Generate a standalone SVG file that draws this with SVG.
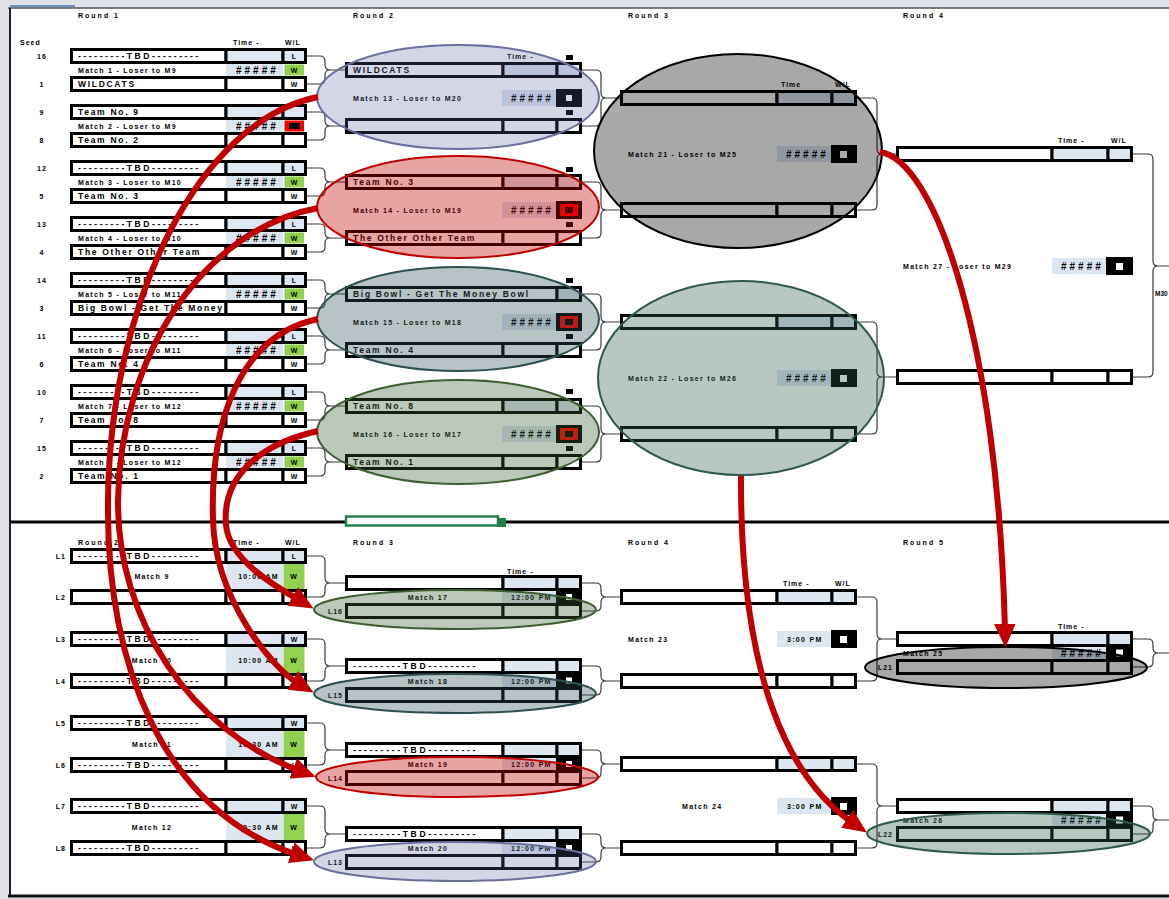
<svg xmlns="http://www.w3.org/2000/svg" width="1169" height="899" viewBox="0 0 1169 899">
<defs>
<style>
.t{font-family:"Liberation Sans",Arial,sans-serif;font-weight:bold;fill:#000}
.h{font-size:7px;letter-spacing:2px}
.m{font-size:7px;letter-spacing:1.3px}
.n{font-size:8.5px;letter-spacing:1.7px}
.s{font-size:7px;letter-spacing:1px}
.x{font-size:10px;letter-spacing:3px}
.c{stroke:#000;stroke-width:3}
.wf{fill:#fff}
.bf{fill:#dce6f1}
.g{fill:#92d050}
.k{fill:#000}
.wi{fill:#fff}
.rd{fill:#ff0000}
.br{fill:none;stroke:#3a3a3a;stroke-width:1.2}
.arr{fill:none;stroke:#c00000;stroke-width:6;marker-end:url(#ah)}
.ov{stroke-width:2}
</style>
<marker id="ah" viewBox="0 0 10 9" refX="3" refY="4.5" markerWidth="4" markerHeight="3.6" orient="auto" markerUnits="strokeWidth"><path d="M0,0 L10,4.5 L0,9 z" fill="#c00000"/></marker>
</defs>

<g id="frame">
<rect x="0" y="0" width="1169" height="899" fill="#dfe3e8"/>
<rect x="10" y="8" width="1159" height="888" fill="#fff"/>
<rect x="10" y="5" width="65" height="2" fill="#6e8fc4"/>
<line x1="8" y1="8" x2="1169" y2="8" stroke="#555" stroke-width="1.5"/>
<line x1="10" y1="8" x2="10" y2="897" stroke="#222" stroke-width="2"/>
<line x1="8" y1="896" x2="1169" y2="896" stroke="#111" stroke-width="3"/>
<line x1="10" y1="522" x2="1169" y2="522" stroke="#000" stroke-width="3"/>
<rect x="346" y="516.5" width="152" height="9" fill="#fff" stroke="#21804a" stroke-width="2.5"/>
<rect x="497" y="518" width="9" height="9" fill="#21804a"/>
</g>

<g id="headers">
<text class="t h" x="78" y="18">Round 1</text>
<text class="t h" x="353" y="18">Round 2</text>
<text class="t h" x="628" y="18">Round 3</text>
<text class="t h" x="903" y="18">Round 4</text>
<text class="t s" x="20" y="45">Seed</text>
<text class="t s" x="233" y="45">Time -</text>
<text class="t s" x="285" y="45">W/L</text>
<text class="t s" x="507" y="59">Time -</text>
<text class="t s" x="781" y="87">Time</text>
<text class="t s" x="835" y="87">W/L</text>
<text class="t s" x="1058" y="143">Time -</text>
<text class="t s" x="1111" y="143">W/L</text>
<text class="t h" x="78" y="545">Round 2</text>
<text class="t h" x="353" y="545">Round 3</text>
<text class="t h" x="628" y="545">Round 4</text>
<text class="t h" x="903" y="545">Round 5</text>
<text class="t s" x="233" y="545">Time -</text>
<text class="t s" x="285" y="545">W/L</text>
<text class="t s" x="507" y="574">Time -</text>
<text class="t s" x="783" y="586">Time -</text>
<text class="t s" x="835" y="586">W/L</text>
<text class="t s" x="1058" y="629">Time -</text>
<text class="t" x="1155" y="296" font-size="6.5">M30</text>
</g>

<g id="connectors">
<path class="br" d="M306,56H320Q325,56 325,61V65Q325,70 330,70H345M306,84H320Q325,84 325,79V75Q325,70 330,70"/>
<path class="br" d="M306,112H320Q325,112 325,117V121Q325,126 330,126H345M306,140H320Q325,140 325,135V131Q325,126 330,126"/>
<path class="br" d="M306,168H320Q325,168 325,173V177Q325,182 330,182H345M306,196H320Q325,196 325,191V187Q325,182 330,182"/>
<path class="br" d="M306,224H320Q325,224 325,229V233Q325,238 330,238H345M306,252H320Q325,252 325,247V243Q325,238 330,238"/>
<path class="br" d="M306,280H320Q325,280 325,285V289Q325,294 330,294H345M306,308H320Q325,308 325,303V299Q325,294 330,294"/>
<path class="br" d="M306,336H320Q325,336 325,341V345Q325,350 330,350H345M306,364H320Q325,364 325,359V355Q325,350 330,350"/>
<path class="br" d="M306,392H320Q325,392 325,397V401Q325,406 330,406H345M306,420H320Q325,420 325,415V411Q325,406 330,406"/>
<path class="br" d="M306,448H320Q325,448 325,453V457Q325,462 330,462H345M306,476H320Q325,476 325,471V467Q325,462 330,462"/>
<path class="br" d="M582,70H596Q601,70 601,75V93Q601,98 606,98H620M582,126H596Q601,126 601,121V103Q601,98 606,98"/>
<path class="br" d="M582,182H596Q601,182 601,187V205Q601,210 606,210H620M582,238H596Q601,238 601,233V215Q601,210 606,210"/>
<path class="br" d="M582,294H596Q601,294 601,299V317Q601,322 606,322H620M582,350H596Q601,350 601,345V327Q601,322 606,322"/>
<path class="br" d="M582,406H596Q601,406 601,411V429Q601,434 606,434H620M582,462H596Q601,462 601,457V439Q601,434 606,434"/>
<path class="br" d="M857,98H872Q877,98 877,103V149Q877,154 882,154H896M857,210H872Q877,210 877,205V159Q877,154 882,154"/>
<path class="br" d="M857,322H872Q877,322 877,327V372Q877,377 882,377H896M857,434H872Q877,434 877,429V382Q877,377 882,377"/>
<path class="br" d="M1133,154H1148Q1153,154 1153,159V261Q1153,266 1158,266H1169M1133,377H1148Q1153,377 1153,372V271Q1153,266 1158,266"/>
<path class="br" d="M306,556H320Q325,556 325,561V578Q325,583 330,583H345M306,597H320Q325,597 325,592V588Q325,583 330,583"/>
<path class="br" d="M306,639H320Q325,639 325,644V661Q325,666 330,666H345M306,681H320Q325,681 325,676V671Q325,666 330,666"/>
<path class="br" d="M306,723H320Q325,723 325,728V745Q325,750 330,750H345M306,765H320Q325,765 325,760V755Q325,750 330,750"/>
<path class="br" d="M306,806H320Q325,806 325,811V829Q325,834 330,834H345M306,848H320Q325,848 325,843V839Q325,834 330,834"/>
<path class="br" d="M582,583H596Q601,583 601,588V592Q601,597 606,597H620M582,611H596Q601,611 601,606V602Q601,597 606,597"/>
<path class="br" d="M582,666H596Q601,666 601,671V676Q601,681 606,681H620M582,695H596Q601,695 601,690V686Q601,681 606,681"/>
<path class="br" d="M582,750H596Q601,750 601,755V759Q601,764 606,764H620M582,778H596Q601,778 601,773V769Q601,764 606,764"/>
<path class="br" d="M582,834H596Q601,834 601,839V843Q601,848 606,848H620M582,862H596Q601,862 601,857V853Q601,848 606,848"/>
<path class="br" d="M857,597H872Q877,597 877,602V634Q877,639 882,639H896M857,681H872Q877,681 877,676V644Q877,639 882,639"/>
<path class="br" d="M857,764H872Q877,764 877,769V801Q877,806 882,806H896M857,848H872Q877,848 877,843V811Q877,806 882,806"/>
<path class="br" d="M1133,639H1148Q1153,639 1153,644V648Q1153,653 1158,653H1169M1133,667H1148Q1153,667 1153,662V658Q1153,653 1158,653"/>
<path class="br" d="M1133,806H1148Q1153,806 1153,811V815Q1153,820 1158,820H1169M1133,834H1148Q1153,834 1153,829V825Q1153,820 1158,820"/>
</g>

<!-- Round 1 -->
<g id="m1">
<text class="t s" x="42" y="58.5" text-anchor="middle">16</text>
<rect class="c wf" x="71.5" y="49.5" width="154.5" height="13"/>
<text class="t n" x="78" y="59" textLength="122" lengthAdjust="spacing">---------TBD---------</text>
<rect class="c bf" x="226" y="49.5" width="57" height="13"/><rect class="c bf" x="283" y="49.5" width="22.5" height="13"/>
<text class="t s" x="294.5" y="58.5" text-anchor="middle">L</text>
<text class="t m" x="78" y="72.5">Match 1 - Loser to M9</text>
<rect class="bf" x="226" y="64" width="57" height="12"/><text class="t x" x="236" y="73.5">#####</text>
<rect class="g" x="284.5" y="64.5" width="19.5" height="11"/><text class="t s" x="294.5" y="72.5" text-anchor="middle">W</text>
<text class="t s" x="42" y="86.5" text-anchor="middle">1</text>
<rect class="c wf" x="71.5" y="77.5" width="154.5" height="13"/>
<text class="t n" x="78" y="87">WILDCATS</text>
<rect class="c wf" x="226" y="77.5" width="57" height="13"/><rect class="c wf" x="283" y="77.5" width="22.5" height="13"/>
<text class="t s" x="294.5" y="86.5" text-anchor="middle">W</text>
</g>
<g id="m2">
<text class="t s" x="42" y="114.5" text-anchor="middle">9</text>
<rect class="c wf" x="71.5" y="105.5" width="154.5" height="13"/>
<text class="t n" x="78" y="115">Team No. 9</text>
<rect class="c bf" x="226" y="105.5" width="57" height="13"/><rect class="c bf" x="283" y="105.5" width="22.5" height="13"/>
<text class="t m" x="78" y="128.5">Match 2 - Loser to M9</text>
<rect class="bf" x="226" y="120" width="57" height="12"/><text class="t x" x="236" y="129.5">#####</text>
<rect class="rd" x="284.5" y="120.5" width="19.5" height="11"/><rect class="k" x="289" y="123" width="11" height="6"/>
<text class="t s" x="42" y="142.5" text-anchor="middle">8</text>
<rect class="c wf" x="71.5" y="133.5" width="154.5" height="13"/>
<text class="t n" x="78" y="143">Team No. 2</text>
<rect class="c wf" x="226" y="133.5" width="57" height="13"/><rect class="c wf" x="283" y="133.5" width="22.5" height="13"/>
</g>
<g id="m3">
<text class="t s" x="42" y="170.5" text-anchor="middle">12</text>
<rect class="c wf" x="71.5" y="161.5" width="154.5" height="13"/>
<text class="t n" x="78" y="171" textLength="122" lengthAdjust="spacing">---------TBD---------</text>
<rect class="c bf" x="226" y="161.5" width="57" height="13"/><rect class="c bf" x="283" y="161.5" width="22.5" height="13"/>
<text class="t s" x="294.5" y="170.5" text-anchor="middle">L</text>
<text class="t m" x="78" y="184.5">Match 3 - Loser to M10</text>
<rect class="bf" x="226" y="176" width="57" height="12"/><text class="t x" x="236" y="185.5">#####</text>
<rect class="g" x="284.5" y="176.5" width="19.5" height="11"/><text class="t s" x="294.5" y="184.5" text-anchor="middle">W</text>
<text class="t s" x="42" y="198.5" text-anchor="middle">5</text>
<rect class="c wf" x="71.5" y="189.5" width="154.5" height="13"/>
<text class="t n" x="78" y="199">Team No. 3</text>
<rect class="c wf" x="226" y="189.5" width="57" height="13"/><rect class="c wf" x="283" y="189.5" width="22.5" height="13"/>
<text class="t s" x="294.5" y="198.5" text-anchor="middle">W</text>
</g>
<g id="m4">
<text class="t s" x="42" y="226.5" text-anchor="middle">13</text>
<rect class="c wf" x="71.5" y="217.5" width="154.5" height="13"/>
<text class="t n" x="78" y="227" textLength="122" lengthAdjust="spacing">---------TBD---------</text>
<rect class="c bf" x="226" y="217.5" width="57" height="13"/><rect class="c bf" x="283" y="217.5" width="22.5" height="13"/>
<text class="t s" x="294.5" y="226.5" text-anchor="middle">L</text>
<text class="t m" x="78" y="240.5">Match 4 - Loser to M10</text>
<rect class="bf" x="226" y="232" width="57" height="12"/><text class="t x" x="236" y="241.5">#####</text>
<rect class="g" x="284.5" y="232.5" width="19.5" height="11"/><text class="t s" x="294.5" y="240.5" text-anchor="middle">W</text>
<text class="t s" x="42" y="254.5" text-anchor="middle">4</text>
<rect class="c wf" x="71.5" y="245.5" width="154.5" height="13"/>
<text class="t n" x="78" y="255">The Other Other Team</text>
<rect class="c wf" x="226" y="245.5" width="57" height="13"/><rect class="c wf" x="283" y="245.5" width="22.5" height="13"/>
<text class="t s" x="294.5" y="254.5" text-anchor="middle">W</text>
</g>
<g id="m5">
<text class="t s" x="42" y="282.5" text-anchor="middle">14</text>
<rect class="c wf" x="71.5" y="273.5" width="154.5" height="13"/>
<text class="t n" x="78" y="283" textLength="122" lengthAdjust="spacing">---------TBD---------</text>
<rect class="c bf" x="226" y="273.5" width="57" height="13"/><rect class="c bf" x="283" y="273.5" width="22.5" height="13"/>
<text class="t s" x="294.5" y="282.5" text-anchor="middle">L</text>
<text class="t m" x="78" y="296.5">Match 5 - Loser to M11</text>
<rect class="bf" x="226" y="288" width="57" height="12"/><text class="t x" x="236" y="297.5">#####</text>
<rect class="g" x="284.5" y="288.5" width="19.5" height="11"/><text class="t s" x="294.5" y="296.5" text-anchor="middle">W</text>
<text class="t s" x="42" y="310.5" text-anchor="middle">3</text>
<rect class="c wf" x="71.5" y="301.5" width="154.5" height="13"/>
<text class="t n" x="78" y="311">Big Bowl - Get The Money Bowl</text>
<rect class="c wf" x="226" y="301.5" width="57" height="13"/><rect class="c wf" x="283" y="301.5" width="22.5" height="13"/>
<text class="t s" x="294.5" y="310.5" text-anchor="middle">W</text>
</g>
<g id="m6">
<text class="t s" x="42" y="338.5" text-anchor="middle">11</text>
<rect class="c wf" x="71.5" y="329.5" width="154.5" height="13"/>
<text class="t n" x="78" y="339" textLength="122" lengthAdjust="spacing">---------TBD---------</text>
<rect class="c bf" x="226" y="329.5" width="57" height="13"/><rect class="c bf" x="283" y="329.5" width="22.5" height="13"/>
<text class="t s" x="294.5" y="338.5" text-anchor="middle">L</text>
<text class="t m" x="78" y="352.5">Match 6 - Loser to M11</text>
<rect class="bf" x="226" y="344" width="57" height="12"/><text class="t x" x="236" y="353.5">#####</text>
<rect class="g" x="284.5" y="344.5" width="19.5" height="11"/><text class="t s" x="294.5" y="352.5" text-anchor="middle">W</text>
<text class="t s" x="42" y="366.5" text-anchor="middle">6</text>
<rect class="c wf" x="71.5" y="357.5" width="154.5" height="13"/>
<text class="t n" x="78" y="367">Team No. 4</text>
<rect class="c wf" x="226" y="357.5" width="57" height="13"/><rect class="c wf" x="283" y="357.5" width="22.5" height="13"/>
<text class="t s" x="294.5" y="366.5" text-anchor="middle">W</text>
</g>
<g id="m7">
<text class="t s" x="42" y="394.5" text-anchor="middle">10</text>
<rect class="c wf" x="71.5" y="385.5" width="154.5" height="13"/>
<text class="t n" x="78" y="395" textLength="122" lengthAdjust="spacing">---------TBD---------</text>
<rect class="c bf" x="226" y="385.5" width="57" height="13"/><rect class="c bf" x="283" y="385.5" width="22.5" height="13"/>
<text class="t s" x="294.5" y="394.5" text-anchor="middle">L</text>
<text class="t m" x="78" y="408.5">Match 7 - Loser to M12</text>
<rect class="bf" x="226" y="400" width="57" height="12"/><text class="t x" x="236" y="409.5">#####</text>
<rect class="g" x="284.5" y="400.5" width="19.5" height="11"/><text class="t s" x="294.5" y="408.5" text-anchor="middle">W</text>
<text class="t s" x="42" y="422.5" text-anchor="middle">7</text>
<rect class="c wf" x="71.5" y="413.5" width="154.5" height="13"/>
<text class="t n" x="78" y="423">Team No. 8</text>
<rect class="c wf" x="226" y="413.5" width="57" height="13"/><rect class="c wf" x="283" y="413.5" width="22.5" height="13"/>
<text class="t s" x="294.5" y="422.5" text-anchor="middle">W</text>
</g>
<g id="m8">
<text class="t s" x="42" y="450.5" text-anchor="middle">15</text>
<rect class="c wf" x="71.5" y="441.5" width="154.5" height="13"/>
<text class="t n" x="78" y="451" textLength="122" lengthAdjust="spacing">---------TBD---------</text>
<rect class="c bf" x="226" y="441.5" width="57" height="13"/><rect class="c bf" x="283" y="441.5" width="22.5" height="13"/>
<text class="t s" x="294.5" y="450.5" text-anchor="middle">L</text>
<text class="t m" x="78" y="464.5">Match 8 - Loser to M12</text>
<rect class="bf" x="226" y="456" width="57" height="12"/><text class="t x" x="236" y="465.5">#####</text>
<rect class="g" x="284.5" y="456.5" width="19.5" height="11"/><text class="t s" x="294.5" y="464.5" text-anchor="middle">W</text>
<text class="t s" x="42" y="478.5" text-anchor="middle">2</text>
<rect class="c wf" x="71.5" y="469.5" width="154.5" height="13"/>
<text class="t n" x="78" y="479">Team No. 1</text>
<rect class="c wf" x="226" y="469.5" width="57" height="13"/><rect class="c wf" x="283" y="469.5" width="22.5" height="13"/>
<text class="t s" x="294.5" y="478.5" text-anchor="middle">W</text>
</g>

<!-- Round 2 top -->
<g id="m13">
<rect class="k" x="566" y="55" width="7" height="5"/>
<rect class="c wf" x="346.5" y="63.5" width="156.5" height="13"/>
<text class="t n" x="353" y="73">WILDCATS</text>
<rect class="c bf" x="503" y="63.5" width="54" height="13"/><rect class="c bf" x="557" y="63.5" width="23.5" height="13"/>
<text class="t m" x="353" y="101">Match 13 - Loser to M20</text>
<rect class="bf" x="502" y="90" width="55" height="16"/><text class="t x" x="511" y="101.5">#####</text>
<rect class="k" x="556" y="89" width="26" height="18"/><rect class="wi" x="566" y="95" width="6" height="6"/>
<rect class="k" x="566" y="110" width="7" height="5"/>
<rect class="c wf" x="346.5" y="119.5" width="156.5" height="13"/>
<rect class="c wf" x="503" y="119.5" width="54" height="13"/><rect class="c wf" x="557" y="119.5" width="23.5" height="13"/>
</g>
<g id="m14">
<rect class="k" x="566" y="167" width="7" height="5"/>
<rect class="c wf" x="346.5" y="175.5" width="156.5" height="13"/>
<text class="t n" x="353" y="185">Team No. 3</text>
<rect class="c bf" x="503" y="175.5" width="54" height="13"/><rect class="c bf" x="557" y="175.5" width="23.5" height="13"/>
<text class="t m" x="353" y="213">Match 14 - Loser to M19</text>
<rect class="bf" x="502" y="202" width="55" height="16"/><text class="t x" x="511" y="213.5">#####</text>
<rect class="k" x="556" y="201" width="26" height="18"/><rect class="rd" x="560" y="204" width="18" height="12"/><rect class="k" x="565" y="207" width="8" height="6"/>
<rect class="k" x="566" y="222" width="7" height="5"/>
<rect class="c wf" x="346.5" y="231.5" width="156.5" height="13"/>
<text class="t n" x="353" y="241">The Other Other Team</text>
<rect class="c wf" x="503" y="231.5" width="54" height="13"/><rect class="c wf" x="557" y="231.5" width="23.5" height="13"/>
</g>
<g id="m15">
<rect class="k" x="566" y="278" width="7" height="5"/>
<rect class="c wf" x="346.5" y="287.5" width="210.5" height="13"/>
<text class="t n" x="353" y="297">Big Bowl - Get The Money Bowl</text>
<rect class="c bf" x="557" y="287.5" width="23.5" height="13"/>
<text class="t m" x="353" y="325">Match 15 - Loser to M18</text>
<rect class="bf" x="502" y="314" width="55" height="16"/><text class="t x" x="511" y="325.5">#####</text>
<rect class="k" x="556" y="313" width="26" height="18"/><rect class="rd" x="560" y="316" width="18" height="12"/><rect class="k" x="565" y="319" width="8" height="6"/>
<rect class="k" x="566" y="334" width="7" height="5"/>
<rect class="c wf" x="346.5" y="343.5" width="156.5" height="13"/>
<text class="t n" x="353" y="353">Team No. 4</text>
<rect class="c wf" x="503" y="343.5" width="54" height="13"/><rect class="c wf" x="557" y="343.5" width="23.5" height="13"/>
</g>
<g id="m16">
<rect class="k" x="566" y="389" width="7" height="5"/>
<rect class="c wf" x="346.5" y="399.5" width="156.5" height="13"/>
<text class="t n" x="353" y="409">Team No. 8</text>
<rect class="c bf" x="503" y="399.5" width="54" height="13"/><rect class="c bf" x="557" y="399.5" width="23.5" height="13"/>
<text class="t m" x="353" y="437">Match 16 - Loser to M17</text>
<rect class="bf" x="502" y="426" width="55" height="16"/><text class="t x" x="511" y="437.5">#####</text>
<rect class="k" x="556" y="425" width="26" height="18"/><rect class="rd" x="560" y="428" width="18" height="12"/><rect class="k" x="565" y="431" width="8" height="6"/>
<rect class="k" x="566" y="446" width="7" height="5"/>
<rect class="c wf" x="346.5" y="455.5" width="156.5" height="13"/>
<text class="t n" x="353" y="465">Team No. 1</text>
<rect class="c wf" x="503" y="455.5" width="54" height="13"/><rect class="c wf" x="557" y="455.5" width="23.5" height="13"/>
</g>

<!-- Round 3 top -->
<g id="m21">
<rect class="c wf" x="621.5" y="91.5" width="155.5" height="13"/>
<rect class="c bf" x="777" y="91.5" width="55" height="13"/><rect class="c bf" x="832" y="91.5" width="23.5" height="13"/>
<text class="t m" x="628" y="157">Match 21 - Loser to M25</text>
<rect class="bf" x="777" y="146" width="54" height="16"/><text class="t x" x="786" y="157.5">#####</text>
<rect class="k" x="831" y="145" width="26" height="18"/><rect class="wi" x="840" y="151" width="7" height="7"/>
<rect class="c wf" x="621.5" y="203.5" width="155.5" height="13"/>
<rect class="c wf" x="777" y="203.5" width="55" height="13"/><rect class="c wf" x="832" y="203.5" width="23.5" height="13"/>
</g>
<g id="m22">
<rect class="c wf" x="621.5" y="315.5" width="155.5" height="13"/>
<rect class="c bf" x="777" y="315.5" width="55" height="13"/><rect class="c bf" x="832" y="315.5" width="23.5" height="13"/>
<text class="t m" x="628" y="381">Match 22 - Loser to M26</text>
<rect class="bf" x="777" y="370" width="54" height="16"/><text class="t x" x="786" y="381.5">#####</text>
<rect class="k" x="831" y="369" width="26" height="18"/><rect class="wi" x="840" y="375" width="7" height="7"/>
<rect class="c wf" x="621.5" y="427.5" width="155.5" height="13"/>
<rect class="c wf" x="777" y="427.5" width="55" height="13"/><rect class="c wf" x="832" y="427.5" width="23.5" height="13"/>
</g>

<!-- Round 4 top -->
<g id="m27">
<rect class="c wf" x="897.5" y="147.5" width="154.5" height="13"/>
<rect class="c bf" x="1052" y="147.5" width="56" height="13"/><rect class="c bf" x="1108" y="147.5" width="23.5" height="13"/>
<text class="t m" x="903" y="269">Match 27 - Loser to M29</text>
<rect class="bf" x="1052" y="258" width="54" height="16"/><text class="t x" x="1061" y="269.5">#####</text>
<rect class="k" x="1106" y="257" width="27" height="18"/><rect class="wi" x="1116" y="263" width="7" height="7"/>
<rect class="c wf" x="897.5" y="370.5" width="154.5" height="13"/>
<rect class="c wf" x="1052" y="370.5" width="56" height="13"/><rect class="c wf" x="1108" y="370.5" width="23.5" height="13"/>
</g>

<!-- Losers Round 2 -->
<g id="m9">
<text class="t s" x="66" y="558.5" text-anchor="end">L1</text>
<rect class="c wf" x="71.5" y="549.5" width="154.5" height="13"/>
<text class="t n" x="78" y="559" textLength="122" lengthAdjust="spacing">---------TBD---------</text>
<rect class="c bf" x="226" y="549.5" width="57" height="13"/><rect class="c bf" x="283" y="549.5" width="22.5" height="13"/>
<text class="t s" x="294.5" y="558.5" text-anchor="middle">L</text>
<rect class="bf" x="226" y="564" width="57" height="25"/><rect class="g" x="283.5" y="564" width="21" height="25"/>
<text class="t m" x="152" y="579" text-anchor="middle">Match 9</text>
<text class="t m" x="279" y="579" text-anchor="end">10:00 AM</text>
<text class="t s" x="294" y="579" text-anchor="middle">W</text>
<text class="t s" x="66" y="599.5" text-anchor="end">L2</text>
<rect class="c wf" x="71.5" y="590.5" width="154.5" height="13"/>
<rect class="c wf" x="226" y="590.5" width="57" height="13"/><rect class="c wf" x="283" y="590.5" width="22.5" height="13"/>
<text class="t s" x="294.5" y="599.5" text-anchor="middle">W</text>
</g>
<g id="m10">
<text class="t s" x="66" y="641.5" text-anchor="end">L3</text>
<rect class="c wf" x="71.5" y="632.5" width="154.5" height="13"/>
<text class="t n" x="78" y="642" textLength="122" lengthAdjust="spacing">---------TBD---------</text>
<rect class="c bf" x="226" y="632.5" width="57" height="13"/><rect class="c bf" x="283" y="632.5" width="22.5" height="13"/>
<text class="t s" x="294.5" y="641.5" text-anchor="middle">W</text>
<rect class="bf" x="226" y="647" width="57" height="26"/><rect class="g" x="283.5" y="647" width="21" height="26"/>
<text class="t m" x="152" y="662.5" text-anchor="middle">Match 10</text>
<text class="t m" x="279" y="662.5" text-anchor="end">10:00 AM</text>
<text class="t s" x="294" y="662.5" text-anchor="middle">W</text>
<text class="t s" x="66" y="683.5" text-anchor="end">L4</text>
<rect class="c wf" x="71.5" y="674.5" width="154.5" height="13"/>
<text class="t n" x="78" y="684" textLength="122" lengthAdjust="spacing">---------TBD---------</text>
<rect class="c wf" x="226" y="674.5" width="57" height="13"/><rect class="c wf" x="283" y="674.5" width="22.5" height="13"/>
<text class="t s" x="294.5" y="683.5" text-anchor="middle">L</text>
</g>
<g id="m11">
<text class="t s" x="66" y="725.5" text-anchor="end">L5</text>
<rect class="c wf" x="71.5" y="716.5" width="154.5" height="13"/>
<text class="t n" x="78" y="726" textLength="122" lengthAdjust="spacing">---------TBD---------</text>
<rect class="c bf" x="226" y="716.5" width="57" height="13"/><rect class="c bf" x="283" y="716.5" width="22.5" height="13"/>
<text class="t s" x="294.5" y="725.5" text-anchor="middle">W</text>
<rect class="bf" x="226" y="731" width="57" height="26"/><rect class="g" x="283.5" y="731" width="21" height="26"/>
<text class="t m" x="152" y="746.5" text-anchor="middle">Match 11</text>
<text class="t m" x="279" y="746.5" text-anchor="end">10:30 AM</text>
<text class="t s" x="294" y="746.5" text-anchor="middle">W</text>
<text class="t s" x="66" y="767.5" text-anchor="end">L6</text>
<rect class="c wf" x="71.5" y="758.5" width="154.5" height="13"/>
<text class="t n" x="78" y="768" textLength="122" lengthAdjust="spacing">---------TBD---------</text>
<rect class="c wf" x="226" y="758.5" width="57" height="13"/><rect class="c wf" x="283" y="758.5" width="22.5" height="13"/>
<text class="t s" x="294.5" y="767.5" text-anchor="middle">L</text>
</g>
<g id="m12">
<text class="t s" x="66" y="808.5" text-anchor="end">L7</text>
<rect class="c wf" x="71.5" y="799.5" width="154.5" height="13"/>
<text class="t n" x="78" y="809" textLength="122" lengthAdjust="spacing">---------TBD---------</text>
<rect class="c bf" x="226" y="799.5" width="57" height="13"/><rect class="c bf" x="283" y="799.5" width="22.5" height="13"/>
<text class="t s" x="294.5" y="808.5" text-anchor="middle">W</text>
<rect class="bf" x="226" y="814" width="57" height="26"/><rect class="g" x="283.5" y="814" width="21" height="26"/>
<text class="t m" x="152" y="829.5" text-anchor="middle">Match 12</text>
<text class="t m" x="279" y="829.5" text-anchor="end">10:30 AM</text>
<text class="t s" x="294" y="829.5" text-anchor="middle">W</text>
<text class="t s" x="66" y="850.5" text-anchor="end">L8</text>
<rect class="c wf" x="71.5" y="841.5" width="154.5" height="13"/>
<text class="t n" x="78" y="851" textLength="122" lengthAdjust="spacing">---------TBD---------</text>
<rect class="c wf" x="226" y="841.5" width="57" height="13"/><rect class="c wf" x="283" y="841.5" width="22.5" height="13"/>
<text class="t s" x="294.5" y="850.5" text-anchor="middle">L</text>
</g>

<!-- Losers Round 3 -->
<g id="m17">
<rect class="c wf" x="346.5" y="576.5" width="156.5" height="13"/>
<rect class="c bf" x="503" y="576.5" width="54" height="13"/><rect class="c bf" x="557" y="576.5" width="23.5" height="13"/>
<rect class="bf" x="502" y="591" width="55" height="12"/>
<text class="t m" x="428" y="600" text-anchor="middle">Match 17</text>
<text class="t m" x="511" y="600">12:00 PM</text>
<rect class="k" x="556" y="590" width="26" height="14"/><rect class="wi" x="566" y="594" width="6" height="6"/>
<text class="t s" x="343" y="613.5" text-anchor="end">L16</text>
<rect class="c wf" x="346.5" y="604.5" width="156.5" height="13"/>
<rect class="c wf" x="503" y="604.5" width="54" height="13"/><rect class="c wf" x="557" y="604.5" width="23.5" height="13"/>
</g>
<g id="m18">
<rect class="c wf" x="346.5" y="659.5" width="156.5" height="13"/>
<text class="t n" x="353" y="669" textLength="124" lengthAdjust="spacing">---------TBD---------</text>
<rect class="c bf" x="503" y="659.5" width="54" height="13"/><rect class="c bf" x="557" y="659.5" width="23.5" height="13"/>
<rect class="bf" x="502" y="674" width="55" height="13"/>
<text class="t m" x="428" y="683.5" text-anchor="middle">Match 18</text>
<text class="t m" x="511" y="683.5">12:00 PM</text>
<rect class="k" x="556" y="673" width="26" height="15"/><rect class="wi" x="566" y="677.5" width="6" height="6"/>
<text class="t s" x="343" y="697.5" text-anchor="end">L15</text>
<rect class="c wf" x="346.5" y="688.5" width="156.5" height="13"/>
<rect class="c wf" x="503" y="688.5" width="54" height="13"/><rect class="c wf" x="557" y="688.5" width="23.5" height="13"/>
</g>
<g id="m19">
<rect class="c wf" x="346.5" y="743.5" width="156.5" height="13"/>
<text class="t n" x="353" y="753" textLength="124" lengthAdjust="spacing">---------TBD---------</text>
<rect class="c bf" x="503" y="743.5" width="54" height="13"/><rect class="c bf" x="557" y="743.5" width="23.5" height="13"/>
<rect class="bf" x="502" y="758" width="55" height="12"/>
<text class="t m" x="428" y="767" text-anchor="middle">Match 19</text>
<text class="t m" x="511" y="767">12:00 PM</text>
<rect class="k" x="556" y="757" width="26" height="14"/><rect class="wi" x="566" y="761" width="6" height="6"/>
<text class="t s" x="343" y="780.5" text-anchor="end">L14</text>
<rect class="c wf" x="346.5" y="771.5" width="156.5" height="13"/>
<rect class="c wf" x="503" y="771.5" width="54" height="13"/><rect class="c wf" x="557" y="771.5" width="23.5" height="13"/>
</g>
<g id="m20">
<rect class="c wf" x="346.5" y="827.5" width="156.5" height="13"/>
<text class="t n" x="353" y="837" textLength="124" lengthAdjust="spacing">---------TBD---------</text>
<rect class="c bf" x="503" y="827.5" width="54" height="13"/><rect class="c bf" x="557" y="827.5" width="23.5" height="13"/>
<rect class="bf" x="502" y="842" width="55" height="12"/>
<text class="t m" x="428" y="851" text-anchor="middle">Match 20</text>
<text class="t m" x="511" y="851">12:00 PM</text>
<rect class="k" x="556" y="841" width="26" height="14"/><rect class="wi" x="566" y="845" width="6" height="6"/>
<text class="t s" x="343" y="864.5" text-anchor="end">L13</text>
<rect class="c wf" x="346.5" y="855.5" width="156.5" height="13"/>
<rect class="c wf" x="503" y="855.5" width="54" height="13"/><rect class="c wf" x="557" y="855.5" width="23.5" height="13"/>
</g>

<!-- Losers Round 4 -->
<g id="m23">
<rect class="c wf" x="621.5" y="590.5" width="155.5" height="13"/>
<rect class="c bf" x="777" y="590.5" width="55" height="13"/><rect class="c bf" x="832" y="590.5" width="23.5" height="13"/>
<text class="t m" x="628" y="642">Match 23</text>
<rect class="bf" x="777" y="631" width="54" height="16"/><text class="t m" x="787" y="642">3:00 PM</text>
<rect class="k" x="831" y="630" width="26" height="18"/><rect class="wi" x="840" y="636" width="7" height="7"/>
<rect class="c wf" x="621.5" y="674.5" width="155.5" height="13"/>
<rect class="c wf" x="777" y="674.5" width="55" height="13"/><rect class="c wf" x="832" y="674.5" width="23.5" height="13"/>
</g>
<g id="m24">
<rect class="c wf" x="621.5" y="757.5" width="155.5" height="13"/>
<rect class="c bf" x="777" y="757.5" width="55" height="13"/><rect class="c bf" x="832" y="757.5" width="23.5" height="13"/>
<text class="t m" x="682" y="809">Match 24</text>
<rect class="bf" x="777" y="798" width="54" height="16"/><text class="t m" x="787" y="809">3:00 PM</text>
<rect class="k" x="831" y="797" width="26" height="18"/><rect class="wi" x="840" y="803" width="7" height="7"/>
<rect class="c wf" x="621.5" y="841.5" width="155.5" height="13"/>
<rect class="c wf" x="777" y="841.5" width="55" height="13"/><rect class="c wf" x="832" y="841.5" width="23.5" height="13"/>
</g>

<!-- Losers Round 5 -->
<g id="m25">
<rect class="c wf" x="897.5" y="632.5" width="154.5" height="13"/>
<rect class="c bf" x="1052" y="632.5" width="56" height="13"/><rect class="c bf" x="1108" y="632.5" width="23.5" height="13"/>
<text class="t m" x="903" y="656">Match 25</text>
<rect class="bf" x="1052" y="647" width="54" height="12"/><text class="t x" x="1061" y="657">#####</text>
<rect class="k" x="1106" y="646" width="27" height="14"/><rect class="wi" x="1116" y="649.5" width="7" height="7"/>
<text class="t s" x="893" y="669.5" text-anchor="end">L21</text>
<rect class="c wf" x="897.5" y="660.5" width="154.5" height="13"/>
<rect class="c wf" x="1052" y="660.5" width="56" height="13"/><rect class="c wf" x="1108" y="660.5" width="23.5" height="13"/>
</g>
<g id="m26">
<rect class="c wf" x="897.5" y="799.5" width="154.5" height="13"/>
<rect class="c bf" x="1052" y="799.5" width="56" height="13"/><rect class="c bf" x="1108" y="799.5" width="23.5" height="13"/>
<text class="t m" x="903" y="823">Match 26</text>
<rect class="bf" x="1052" y="814" width="54" height="12"/><text class="t x" x="1061" y="824">#####</text>
<rect class="k" x="1106" y="813" width="27" height="14"/><rect class="wi" x="1116" y="816.5" width="7" height="7"/>
<text class="t s" x="893" y="836.5" text-anchor="end">L22</text>
<rect class="c wf" x="897.5" y="827.5" width="154.5" height="13"/>
<rect class="c wf" x="1052" y="827.5" width="56" height="13"/><rect class="c wf" x="1108" y="827.5" width="23.5" height="13"/>
</g>

<g id="highlights">
<ellipse class="ov" cx="458" cy="97" rx="141" ry="52" fill="#5a62a0" fill-opacity="0.26" stroke="#6b6f9e"/>
<ellipse class="ov" cx="458" cy="207" rx="141" ry="51" fill="#c00000" fill-opacity="0.36" stroke="#c00000"/>
<ellipse class="ov" cx="458" cy="319" rx="141" ry="52" fill="#2f5050" fill-opacity="0.34" stroke="#2f5050"/>
<ellipse class="ov" cx="458" cy="432" rx="141" ry="52" fill="#3b5e32" fill-opacity="0.34" stroke="#3b5e32"/>
<ellipse class="ov" cx="738" cy="151" rx="144" ry="97" fill="#000" fill-opacity="0.34" stroke="#000"/>
<ellipse class="ov" cx="741" cy="378" rx="143" ry="97" fill="#2f5a4a" fill-opacity="0.34" stroke="#2f5a4a"/>
<ellipse class="ov" cx="455" cy="609.5" rx="141" ry="19.5" fill="#3b5e32" fill-opacity="0.34" stroke="#3b5e32"/>
<ellipse class="ov" cx="455" cy="693.5" rx="141" ry="19.5" fill="#2f5050" fill-opacity="0.34" stroke="#2f5050"/>
<ellipse class="ov" cx="457" cy="777" rx="141" ry="20" fill="#c00000" fill-opacity="0.36" stroke="#c00000"/>
<ellipse class="ov" cx="455" cy="861.5" rx="141" ry="19.5" fill="#5a62a0" fill-opacity="0.26" stroke="#6b6f9e"/>
<ellipse class="ov" cx="1006" cy="667.5" rx="141" ry="20.5" fill="#000" fill-opacity="0.34" stroke="#000"/>
<ellipse class="ov" cx="1008.5" cy="833.5" rx="141.5" ry="20.5" fill="#2f5a4a" fill-opacity="0.34" stroke="#2f5a4a"/>
</g>

<g id="arrows">
<path class="arr" d="M318,97 C200,120 110,300 108,500 C106,660 160,810 298,855"/>
<path class="arr" d="M318,208 C200,230 120,360 118,500 C117,620 190,730 300,771"/>
<path class="arr" d="M318,319 C240,335 210,420 213,520 C215,600 273,669 299,684"/>
<path class="arr" d="M318,431 C255,445 222,480 226,525 C229,561 280,589 299,600"/>
<path class="arr" d="M880,152 C935,160 998,340 1005,631"/>
<path class="arr" d="M741,476 C740,680 790,780 853,823"/>
</g>
</svg>
